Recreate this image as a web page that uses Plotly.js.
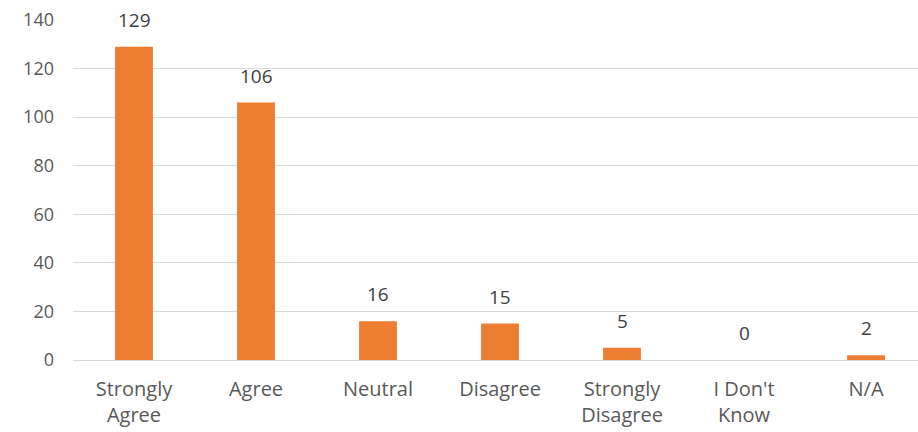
<!DOCTYPE html>
<html>
<head>
<meta charset="utf-8">
<script src="https://cdn.plot.ly/plotly-3.0.1.min.js"></script>
<style>
  html, body { margin: 0; padding: 0; background: #fff; }
  #chart { width: 918px; height: 432px; }
</style>
</head>
<body>
<div id="chart"></div>
<script>
// Survey responses per answer option
const categories = ['Strongly<br>Agree', 'Agree', 'Neutral', 'Disagree', 'Strongly<br>Disagree', "I Don't<br>Know", 'N/A'];
const responses = [129, 106, 16, 15, 5, 0, 2];
const yTicks = [0, 20, 40, 60, 80, 100, 120, 140];

const FONT = 'Open Sans, Noto Sans, sans-serif';
const idx = categories.map((_, i) => i);

const bars = {
  type: 'bar',
  x: idx,
  y: responses,
  width: 0.31,
  marker: { color: '#ED7D31' },
  hoverinfo: 'skip'
};

// value labels above each bar
const labels = idx.map(i => ({
  x: i,
  y: responses[i],
  xref: 'x',
  yref: 'y',
  text: String(responses[i]),
  showarrow: false,
  yanchor: 'bottom',
  yshift: 12,
  font: { family: FONT, size: 19, color: '#404040' }
}));

const layout = {
  width: 918,
  height: 432,
  margin: { l: 73, r: 0, t: 20, b: 72, pad: 0 },
  paper_bgcolor: '#ffffff',
  plot_bgcolor: '#ffffff',
  showlegend: false,
  font: { family: FONT, color: '#595959' },
  xaxis: {
    range: [-0.5, 6.426],
    tickmode: 'array',
    tickvals: idx,
    ticktext: categories,
    tickfont: { family: FONT, size: 20, color: '#595959' },
    showgrid: false,
    zeroline: false,
    showline: false,
    ticks: '',
    ticklabelstandoff: 15,
    fixedrange: true
  },
  yaxis: {
    range: [0, 140],
    tickmode: 'array',
    tickvals: yTicks,
    ticktext: yTicks.map(String),
    tickfont: { family: FONT, size: 18, color: '#595959' },
    showgrid: true,
    gridcolor: '#d9d9d9',
    gridwidth: 1,
    zeroline: true,
    zerolinecolor: '#d9d9d9',
    zerolinewidth: 1,
    showline: false,
    ticks: '',
    ticklabelstandoff: 18,
    fixedrange: true
  },
  annotations: labels
};

Plotly.newPlot('chart', [bars], layout, { displayModeBar: false, staticPlot: true });
</script>
</body>
</html>
